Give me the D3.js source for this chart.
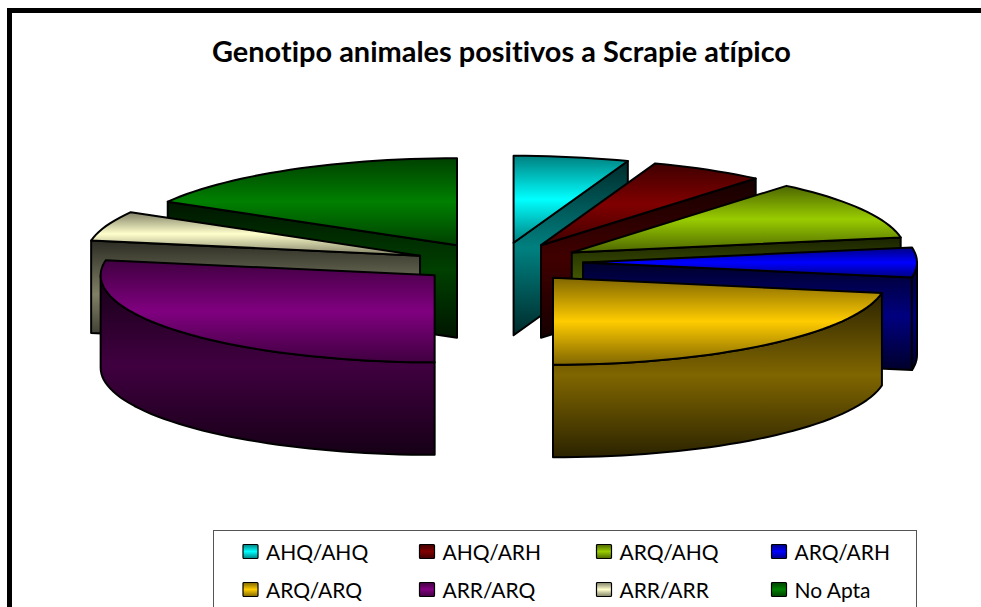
<!DOCTYPE html>
<html><head><meta http-equiv="Content-Type" content="text/html; charset=utf-8">
    <script src="https://d3js.org/d3.v7.min.js"></script>
    <style>
        html, body { margin: 0; padding: 0; background: #fff; overflow: hidden; }
        text { font-family: Lato, "Open Sans", sans-serif; fill: #000; font-variant-ligatures: none; }
    </style>
    </head>

    <body>

        <div class="chart"></div>

        <script type="text/javascript">

            var genotypes = ["AHQ/AHQ", "AHQ/ARH", "ARQ/AHQ", "ARQ/ARH", "ARQ/ARQ", "ARR/ARQ", "ARR/ARR", "No Apta"];
            var counts = [1, 1, 2, 1, 4, 5, 1, 3];
            var palette = ["#00FFFF", "#800000", "#99CC00", "#0000FF", "#FFCC00", "#800080", "#FFFFCC", "#008000"];

            var width = 981;
            var height = 607;

            var svg = d3.select("div.chart")
            .append("svg")
            .attr("width", width)
            .attr("height", height)
            .style("display", "block");

            var defs = svg.append("defs");

            // the pie plane runs -1..1 on both axes, flattened by the y range
            var x = d3.scaleLinear().domain([-1, 1]).range([165, 833]);
            var y = d3.scaleLinear().domain([-1, 1]).range([175.5, 349.5]);
            var depth = 92.5;
            var explodeX = 84 / 334;
            var explodeY = 20 / 87;

            //------------------ FRAME AND TITLE -----------------------------

            svg.append("rect")
                .attr("x", 9.5).attr("y", 10.5)
                .attr("width", 1020).attr("height", 700)
                .style("fill", "#fff")
                .style("stroke", "#000")
                .style("stroke-width", 5);

            svg.append("text")
                .attr("x", 212).attr("y", 62)
                .attr("textLength", 579)
                .attr("lengthAdjust", "spacingAndGlyphs")
                .style("font-size", "28px")
                .style("font-weight", 700)
                .text("Genotipo animales positivos a Scrapie atípico");

            //------------------ GRADIENTS ------------------------------------

            function shade(color, k) {
                var c = d3.rgb(color);
                return d3.rgb(c.r * k, c.g * k, c.b * k).formatHex();
            }

            function addGradient(id, color, edge, middle) {
                var g = defs.append("linearGradient")
                    .attr("id", id)
                    .attr("x1", 0).attr("y1", 0).attr("x2", 0).attr("y2", 1);
                g.append("stop").attr("offset", "0%").attr("stop-color", shade(color, edge));
                g.append("stop").attr("offset", "50%").attr("stop-color", shade(color, middle));
                g.append("stop").attr("offset", "100%").attr("stop-color", shade(color, edge));
            }

            palette.forEach(function (color, i) {
                addGradient("top" + i, color, 0.5, 1);
                addGradient("side" + i, color, 0.17, 0.5);
            });

            //------------------ SLICES ---------------------------------------

            var pie = d3.pie().sort(null).value(function (d) { return d; });
            var slices = pie(counts);

            var line = d3.line()
                .x(function (d) { return x(d[0]); })
                .y(function (d) { return y(d[1]) + d[2]; });

            function rim(cx, cy, a, drop) {
                return [cx + Math.sin(a), cy - Math.cos(a), drop];
            }

            function angles(a0, a1) {
                var n = Math.max(2, Math.ceil((a1 - a0) / (Math.PI / 90)));
                return d3.range(n + 1).map(function (k) { return a0 + (a1 - a0) * k / n; });
            }

            var plot = svg.append("g");

            // back to front: right hand slices, then the left hand ones
            var order = [0, 1, 2, 3, 4, 7, 6, 5];

            order.forEach(function (i) {
                var d = slices[i];
                var mid = (d.startAngle + d.endAngle) / 2;
                var cx = Math.sin(mid) * explodeX;
                var cy = -Math.cos(mid) * explodeY;
                var faces = [];

                function cut(a) {
                    return [[cx, cy, 0], rim(cx, cy, a, 0), rim(cx, cy, a, depth), [cx, cy, depth]];
                }

                if (Math.sin(d.endAngle) > 1e-6) faces.push([cut(d.endAngle), "side"]);
                if (Math.sin(d.startAngle) < -1e-6) faces.push([cut(d.startAngle), "side"]);

                var a0 = Math.max(d.startAngle, Math.PI / 2);
                var a1 = Math.min(d.endAngle, 3 * Math.PI / 2);
                if (a1 > a0) {
                    var arc = angles(a0, a1);
                    var wall = arc.map(function (a) { return rim(cx, cy, a, 0); })
                        .concat(arc.slice().reverse().map(function (a) { return rim(cx, cy, a, depth); }));
                    faces.push([wall, "side"]);
                }

                var top = [[cx, cy, 0]].concat(angles(d.startAngle, d.endAngle).map(function (a) {
                    return rim(cx, cy, a, 0);
                }));
                faces.push([top, "top"]);

                plot.selectAll("path.s" + i)
                    .data(faces)
                    .enter()
                    .append("path")
                    .attr("class", "s" + i)
                    .attr("d", function (f) { return line(f[0]) + "Z"; })
                    .style("fill", function (f) { return "url(#" + f[1] + i + ")"; })
                    .style("stroke", "#000")
                    .style("stroke-width", 2)
                    .style("stroke-linejoin", "round");
            });

            //------------------ LEGEND ---------------------------------------

            var legendCols = d3.scaleOrdinal().domain([0, 1, 2, 3]).range([243, 419.5, 596.5, 771.5]);
            var legendRows = d3.scaleOrdinal().domain([0, 1]).range([544.5, 582.5]);

            svg.append("rect")
                .attr("x", 213.5).attr("y", 530.5)
                .attr("width", 703).attr("height", 120)
                .style("fill", "#fff")
                .style("stroke", "#555")
                .style("stroke-width", 1);

            var items = svg.selectAll("g.item")
                .data(genotypes)
                .enter()
                .append("g")
                .attr("class", "item")
                .attr("transform", function (d, i) {
                    return "translate(" + legendCols(i % 4) + "," + legendRows(Math.floor(i / 4)) + ")";
                });

            items.append("rect")
                .attr("width", 15).attr("height", 14)
                .attr("rx", 1)
                .style("fill", function (d, i) { return "url(#top" + i + ")"; })
                .style("stroke", "#000")
                .style("stroke-width", 1.2);

            items.append("text")
                .attr("x", 23).attr("y", 15.5)
                .style("font-size", "21px")
                .text(function (d) { return d; });

        </script>

    </body></html>
